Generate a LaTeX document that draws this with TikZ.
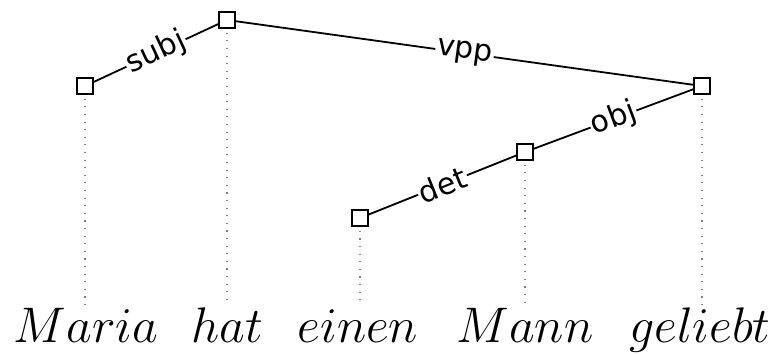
\RequirePackage{fix-cm}
\documentclass[tikz,border=0pt]{standalone}
\usepackage{fontspec}
\newfontfamily\labelfont{DejaVu Sans}
\begin{document}
\begin{tikzpicture}[x=1pt,y=1pt,
  head/.style={draw=black,line width=1.6pt,fill=white,minimum size=16pt,inner sep=0pt},
  dep/.style={line width=1.8pt},
  rel/.style={midway,sloped,fill=white,inner sep=1.5pt,font=\labelfont\fontsize{30}{33}\selectfont},
  proj/.style={gray,line width=1.1pt,dash pattern=on 1.1pt off 6.5pt},
  word/.style={anchor=base,inner sep=0pt,font=\fontsize{50}{60}\selectfont}]
\useasboundingbox (0,0) rectangle (782,354);
% dependency heads
\node[head] (maria) at (85,268) {};
\node[head] (hat) at (227,334) {};
\node[head] (geliebt) at (702,268) {};
\node[head] (mann) at (525,202) {};
\node[head] (einen) at (360,136) {};
% words
\node[word] (w1) at (86,12) {$Maria$};
\node[word] (w2) at (227,12) {$hat$};
\node[word] (w3) at (358,12) {$einen$};
\node[word] (w4) at (525,12) {$Mann$};
\node[word] (w5) at (700,12) {$geliebt$};
% projection lines
\foreach \n in {maria,hat,einen,mann,geliebt}
  \draw[proj] (\n.south) ++(0,-4) -- (\n.south |- 0,49);
% dependency arcs
\draw[dep] (maria) -- node[rel] {subj} (hat);
\draw[dep] (hat) -- node[rel] {vpp} (geliebt);
\draw[dep] (mann) -- node[rel] {obj} (geliebt);
\draw[dep] (einen) -- node[rel] {det} (mann);
\end{tikzpicture}
\end{document}
